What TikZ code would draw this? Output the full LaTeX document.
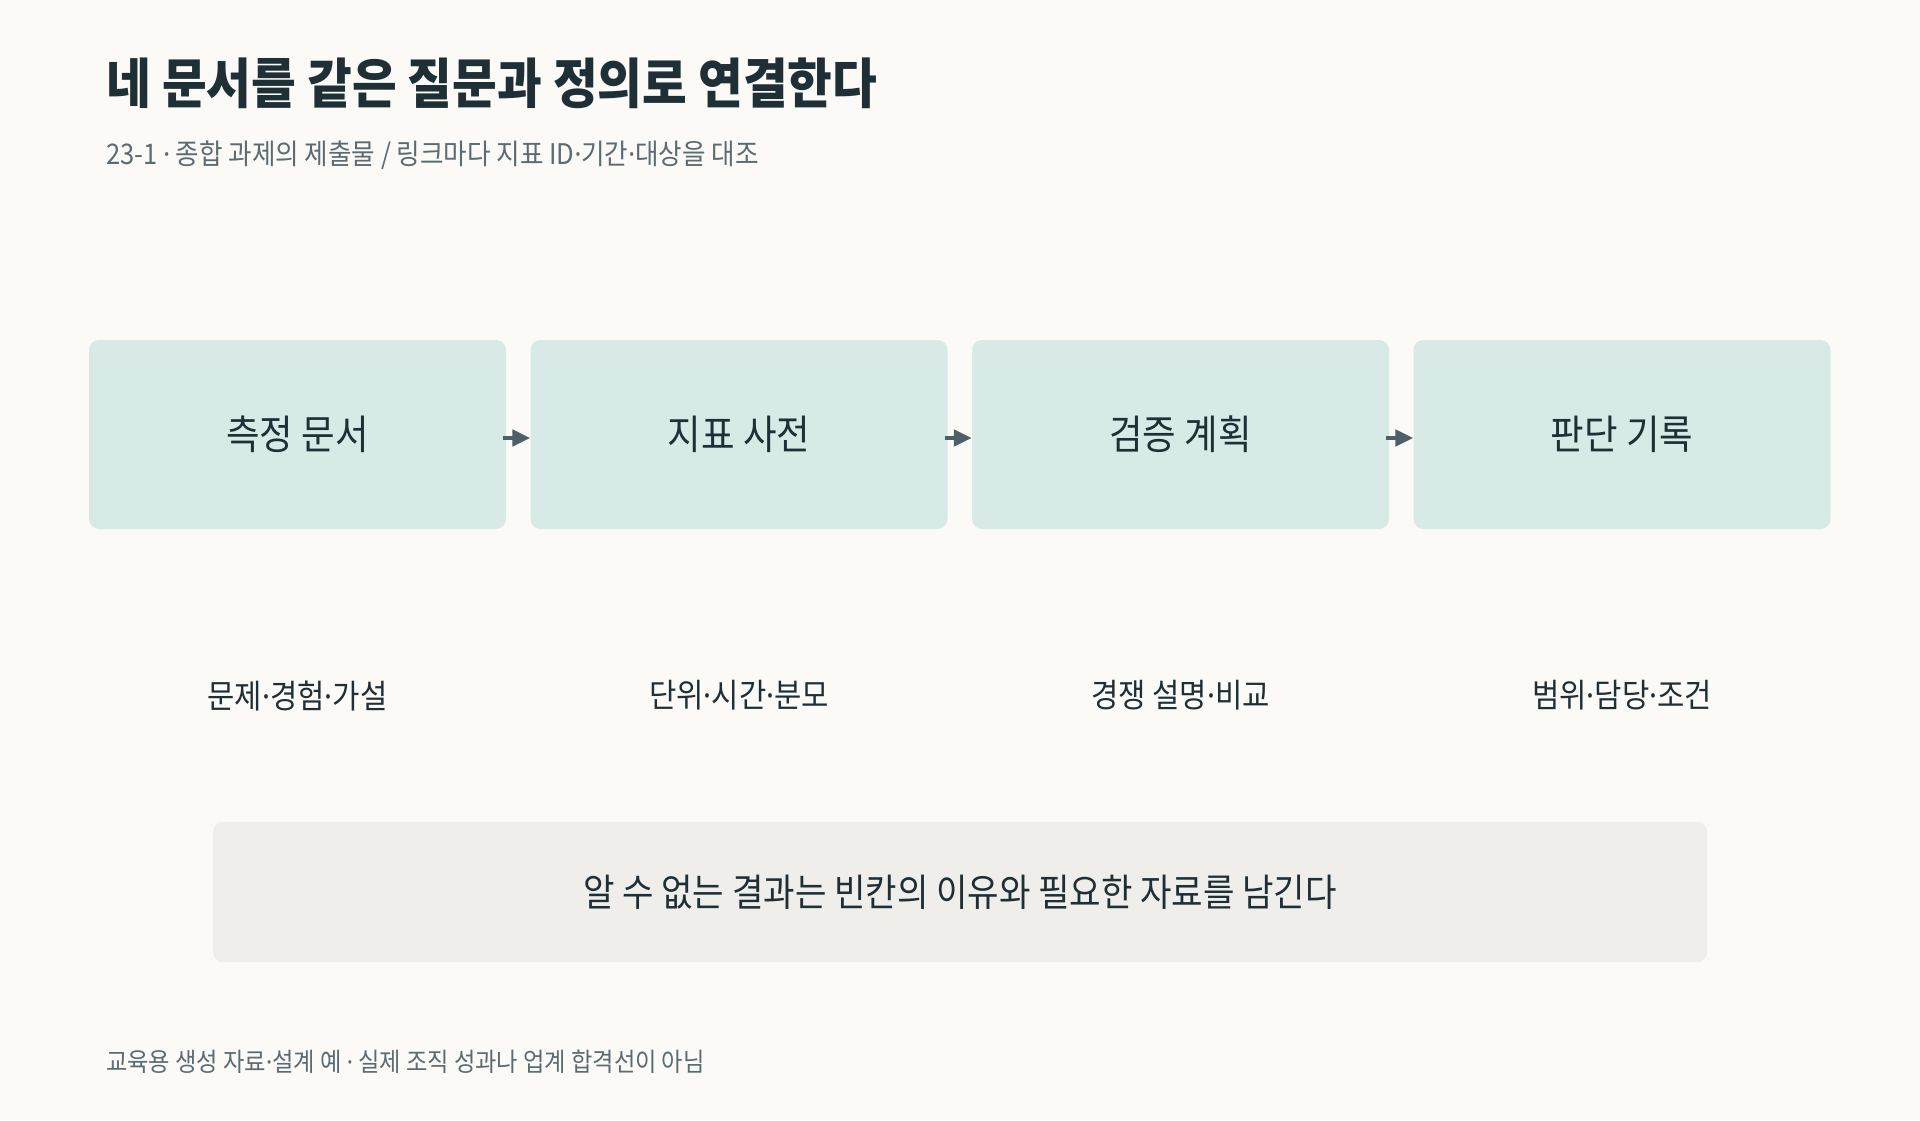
\documentclass[tikz,border=0pt]{standalone}
\usepackage{fontspec}
\newfontfamily\kr[FakeStretch=0.9]{Noto Sans CJK KR}
\newfontfamily\latinf[FakeStretch=0.9]{Noto Sans}
\newcommand\mdot{{\latinf ·}}
\usetikzlibrary{arrows.meta}
\definecolor{bgc}{HTML}{FBFAF7}
\definecolor{boxc}{HTML}{D7EAE5}
\definecolor{notec}{HTML}{EFEEEA}
\definecolor{inkc}{HTML}{1E2F36}
\definecolor{grayc}{HTML}{5B6B72}
\definecolor{arrowc}{HTML}{4E6067}
\tikzset{
  stagebox/.style={fill=boxc, rounded corners=10pt, minimum width=417pt, minimum height=189pt, inner sep=0pt, text=inkc, font=\kr\fontsize{40.5}{48}\selectfont},
  sublabel/.style={text=inkc, inner sep=0pt, font=\kr\fontsize{33}{39}\selectfont},
  notebox/.style={fill=notec, rounded corners=10pt, minimum width=1494pt, minimum height=140pt, inner sep=0pt, text=inkc, font=\kr\fontsize{38}{46}\selectfont},
  flow/.style={draw=arrowc, line width=4.5pt, -{Triangle[length=18pt,width=16pt]}},
}
\begin{document}
\begin{tikzpicture}[x=1pt,y=-1pt]
\fill[bgc] (0,0) rectangle (1920,1120);
\useasboundingbox (0,0) rectangle (1920,1120);
\node[anchor=west, inner sep=0pt, text=inkc, font=\kr\bfseries\fontsize{54}{60}\selectfont] (title) at (106,83) {네 문서를 같은 질문과 정의로 연결한다};
\node[anchor=west, inner sep=0pt, text=grayc, font=\kr\fontsize{28.4}{33}\selectfont] (subtitle) at (106,155) {23-1 \mdot{} 종합 과제의 제출물 / 링크마다 지표 ID\mdot 기간\mdot 대상을 대조};
\node[stagebox] (b1) at (297.5,434.5) {\raisebox{3pt}{측정 문서}};
\node[stagebox] (b2) at (739,434.5) {\raisebox{3pt}{지표 사전}};
\node[stagebox] (b3) at (1180.5,434.5) {\raisebox{3pt}{검증 계획}};
\node[stagebox] (b4) at (1622,434.5) {\raisebox{3pt}{판단 기록}};
\draw[flow] ([shift={(-3,3.5)}]b1.east) -- ([shift={(0,3.5)}]b2.west);
\draw[flow] ([shift={(-3,3.5)}]b2.east) -- ([shift={(0,3.5)}]b3.west);
\draw[flow] ([shift={(-3,3.5)}]b3.east) -- ([shift={(0,3.5)}]b4.west);
\node[sublabel] (s1) at (297.5,695.5) {문제\mdot 경험\mdot 가설};
\node[sublabel] (s2) at (739,695.5) {단위\mdot 시간\mdot 분모};
\node[sublabel] (s3) at (1180.5,695.5) {경쟁 설명\mdot 비교};
\node[sublabel] (s4) at (1622,695.5) {범위\mdot 담당\mdot 조건};
\node[notebox] (note) at (960,892) {알 수 없는 결과는 빈칸의 이유와 필요한 자료를 남긴다};
\node[anchor=west, inner sep=0pt, text=grayc, font=\kr\fontsize{25.8}{30}\selectfont] (footer) at (106,1062) {교육용 생성 자료\mdot 설계 예 \mdot{} 실제 조직 성과나 업계 합격선이 아님};
\end{tikzpicture}
\end{document}
